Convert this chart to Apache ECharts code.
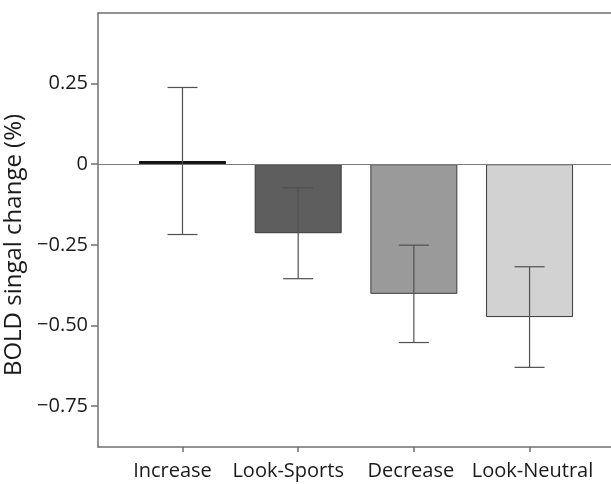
<!DOCTYPE html>
<html>
<head>
<meta charset="utf-8">
<script src="https://cdn.jsdelivr.net/npm/echarts@6/dist/echarts.min.js"></script>
<style>
  html, body { margin: 0; padding: 0; background: #fff; }
  #chart { width: 611px; height: 484px; }
</style>
</head>
<body>
<div id="chart"></div>
<script>
// Conditions shown along the x axis
const categories = ['Increase', 'Look-Sports', 'Decrease', 'Look-Neutral'];
// Mean BOLD signal change (%) per condition
const meanValues = [0.01, -0.214, -0.402, -0.474];
// Half-length of each error bar (%)
const errorValues = [0.228, 0.141, 0.151, 0.156];
// Y-axis tick positions
const yTickValues = [0.25, 0, -0.25, -0.5, -0.75];

const barFills = ['#111111', '#5e5e5e', '#9a9a9a', '#d2d2d2'];
const barBorders = ['#111111', '#3a3a3a', '#3a3a3a', '#3a3a3a'];
// Horizontal nudge (px) of each category label relative to its tick
const labelNudge = [-10, -10, -3, 3];
const positions = categories.map((_, i) => i + 1);

const FONT = '"Open Sans", "Noto Sans", sans-serif';
const AXIS_COLOR = '#707070';
const X_MIN = 0.2697;
const X_MAX = 4.851;

function fmtY(v) {
  if (Math.abs(v) < 1e-9) return '0';
  const s = Math.abs(v).toFixed(2);
  return v < 0 ? '\u2212' + s : s;
}

// One rich style per category label so each can be nudged sideways
const richLabels = {};
labelNudge.forEach((d, i) => {
  richLabels['c' + i] = {
    color: '#1a1a1a', fontFamily: FONT, fontSize: 20,
    padding: d < 0 ? [0, -2 * d, 0, 0] : [0, 0, 0, 2 * d]
  };
});

const chart = echarts.init(document.getElementById('chart'), null, { renderer: 'canvas' });

chart.setOption({
  animation: false,
  backgroundColor: '#ffffff',
  grid: {
    left: 98, top: 13, width: 530, height: 434,
    show: false, containLabel: false, outerBoundsMode: 'none'
  },
  xAxis: [{
    type: 'value',
    min: X_MIN,
    max: X_MAX,
    axisLine: { show: true, onZero: false, lineStyle: { color: AXIS_COLOR, width: 1.5 } },
    axisTick: { show: true, customValues: positions, length: 5, lineStyle: { color: AXIS_COLOR, width: 1.5 } },
    axisLabel: {
      customValues: positions,
      formatter: v => {
        const i = Math.round(v) - 1;
        return categories[i] ? '{c' + i + '|' + categories[i] + '}' : '';
      },
      rich: richLabels,
      color: '#1a1a1a', fontFamily: FONT, fontSize: 20, margin: 14
    },
    splitLine: { show: false }
  }, {
    type: 'value',
    position: 'top',
    min: X_MIN,
    max: X_MAX,
    axisLine: { show: true, onZero: false, lineStyle: { color: AXIS_COLOR, width: 1.5 } },
    axisTick: { show: false },
    axisLabel: { show: false },
    splitLine: { show: false }
  }],
  yAxis: {
    type: 'value',
    min: -0.877,
    max: 0.469,
    name: 'BOLD singal change (%)',
    nameLocation: 'middle',
    nameGap: 68,
    nameTextStyle: {
      color: '#1a1a1a', fontFamily: FONT, fontSize: 24,
      padding: [0, 30, 0, 0]
    },
    axisLine: { show: true, onZero: false, lineStyle: { color: AXIS_COLOR, width: 1.5 } },
    axisTick: { show: true, customValues: yTickValues, length: 7, lineStyle: { color: AXIS_COLOR, width: 1.5 } },
    axisLabel: {
      customValues: yTickValues,
      formatter: fmtY,
      color: '#1a1a1a', fontFamily: FONT, fontSize: 20, margin: 10
    },
    splitLine: { show: false }
  },
  series: [{
    type: 'bar',
    xAxisIndex: 0,
    barWidth: 87,
    data: meanValues.map((v, i) => ({
      value: [positions[i], v],
      itemStyle: { color: barFills[i], borderColor: barBorders[i], borderWidth: 1 }
    })),
    markLine: {
      silent: true,
      symbol: 'none',
      label: { show: false },
      lineStyle: { color: '#7a7a7a', width: 1, type: 'solid' },
      data: [{ yAxis: 0 }]
    },
    z: 2
  }, {
    type: 'custom',
    xAxisIndex: 0,
    data: meanValues.map((v, i) => [positions[i], v - errorValues[i], v + errorValues[i]]),
    renderItem: function (params, api) {
      const x = api.value(0);
      const lo = api.coord([x, api.value(1)]);
      const hi = api.coord([x, api.value(2)]);
      const cap = 15;
      const style = { stroke: '#505050', lineWidth: 1.2 };
      return {
        type: 'group',
        children: [
          { type: 'line', shape: { x1: lo[0], y1: lo[1], x2: hi[0], y2: hi[1] }, style: style },
          { type: 'line', shape: { x1: lo[0] - cap, y1: lo[1], x2: lo[0] + cap, y2: lo[1] }, style: style },
          { type: 'line', shape: { x1: hi[0] - cap, y1: hi[1], x2: hi[0] + cap, y2: hi[1] }, style: style }
        ]
      };
    },
    z: 5
  }]
});
</script>
</body>
</html>
